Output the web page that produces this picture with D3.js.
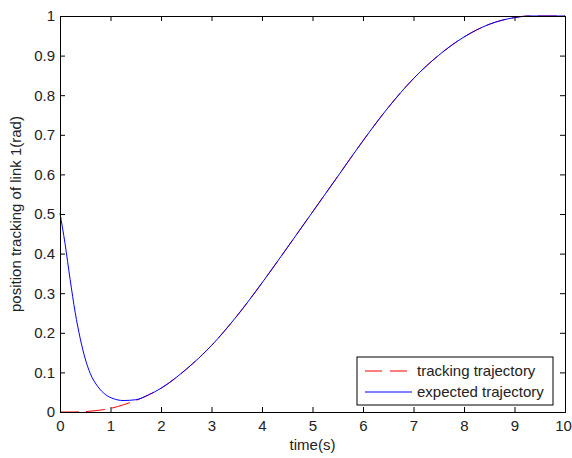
<!DOCTYPE html>
<html>
<head>
<meta charset="utf-8">
<script src="https://cdn.jsdelivr.net/npm/d3@7.9.0/dist/d3.min.js"></script>
<style>
  body { margin: 0; background: #fff; }
  svg { font-family: Arial, "Liberation Sans", sans-serif; }
</style>
</head>
<body>
<div id="chart"></div>
<script>
// tracking trajectory (red dashed)
const trackTime = [0, 0.25, 0.5, 0.75, 1, 1.25, 1.5, 1.75, 2, 2.5, 3, 3.5, 4, 4.5, 5, 5.5, 6, 6.5, 7, 7.5, 8, 8.5, 9, 9.3, 10];
const trackValues = [0, 0, 0.001, 0.004, 0.009, 0.018, 0.029, 0.043, 0.06, 0.108, 0.168, 0.242, 0.326, 0.415, 0.505, 0.595, 0.685, 0.769, 0.842, 0.901, 0.947, 0.979, 0.996, 1.0, 1.0];

// expected trajectory (blue solid)
const expTime = [0, 0.1, 0.2, 0.3, 0.4, 0.5, 0.6, 0.75, 0.9, 1.05, 1.25, 1.5, 1.75, 2, 2.5, 3, 3.5, 4, 4.5, 5, 5.5, 6, 6.5, 7, 7.5, 8, 8.5, 9, 9.3, 10];
const expValues = [0.502, 0.425, 0.335, 0.252, 0.186, 0.134, 0.097, 0.064, 0.044, 0.034, 0.029, 0.031, 0.043, 0.06, 0.108, 0.168, 0.242, 0.326, 0.415, 0.505, 0.595, 0.685, 0.769, 0.842, 0.901, 0.947, 0.979, 0.996, 1.0, 1.0];

const xTicks = [0, 1, 2, 3, 4, 5, 6, 7, 8, 9, 10];
const yTicks = [0, 0.1, 0.2, 0.3, 0.4, 0.5, 0.6, 0.7, 0.8, 0.9, 1];
const legendLabels = ['tracking trajectory', 'expected trajectory'];

const width = 572;
const height = 458;
const margin = { top: 16, right: 7, bottom: 46, left: 60 };

const svg = d3.select('#chart')
  .append('svg')
  .attr('width', width)
  .attr('height', height);

const x = d3.scaleLinear().domain([0, 10]).range([margin.left, width - margin.right]);
const y = d3.scaleLinear().domain([0, 1]).range([height - margin.bottom, margin.top]);

const line = d3.line()
  .x(d => x(d[0]))
  .y(d => y(d[1]))
  .curve(d3.curveMonotoneX);

const trackData = trackTime.map((t, i) => [t, trackValues[i]]);
const expData = expTime.map((t, i) => [t, expValues[i]]);

svg.append('path')
  .datum(trackData)
  .attr('d', line)
  .attr('fill', 'none')
  .attr('stroke', '#ff0000')
  .attr('stroke-width', 1)
  .attr('stroke-dasharray', '19,7');

svg.append('path')
  .datum(expData)
  .attr('d', line)
  .attr('fill', 'none')
  .attr('stroke', '#0000ff')
  .attr('stroke-width', 1);

// axes, MATLAB box style with inward ticks
const fmtY = d => d === 0 || d === 1 ? String(d) : d.toFixed(1);

svg.append('g')
  .attr('transform', `translate(0,${y(0)})`)
  .call(d3.axisBottom(x).tickValues(xTicks).tickSize(-5).tickPadding(8))
  .call(g => g.selectAll('text').attr('font-size', 15).attr('fill', '#222'))
  .call(g => g.selectAll('text').filter(d => d === 10).attr('dx', -2));

svg.append('g')
  .attr('transform', `translate(0,${y(1)})`)
  .call(d3.axisTop(x).tickValues(xTicks).tickSize(-5).tickFormat(''));

svg.append('g')
  .attr('transform', `translate(${x(0)},0)`)
  .call(d3.axisLeft(y).tickValues(yTicks).tickSize(-5).tickPadding(5).tickFormat(fmtY))
  .call(g => g.selectAll('text').attr('font-size', 15).attr('fill', '#222'));

svg.append('g')
  .attr('transform', `translate(${x(10)},0)`)
  .call(d3.axisRight(y).tickValues(yTicks).tickSize(-5).tickFormat(''));

svg.selectAll('.domain').attr('stroke', '#000');
svg.selectAll('.tick line').attr('stroke', '#000');

// axis labels
svg.append('text')
  .attr('x', (x(0) + x(10)) / 2)
  .attr('y', 450)
  .attr('text-anchor', 'middle')
  .attr('font-size', 15)
  .attr('fill', '#222')
  .text('time(s)');

svg.append('text')
  .attr('transform', `translate(21,${(y(0) + y(1)) / 2}) rotate(-90)`)
  .attr('text-anchor', 'middle')
  .attr('font-size', 15)
  .attr('fill', '#222')
  .text('position tracking of link 1(rad)');

// legend
const legend = svg.append('g').attr('transform', 'translate(357,357)');
legend.append('rect')
  .attr('width', 196)
  .attr('height', 48)
  .attr('fill', '#fff')
  .attr('stroke', '#000');

const legendStyles = [
  { color: '#ff0000', dash: '17,8' },
  { color: '#0000ff', dash: null }
];

legendLabels.forEach((label, i) => {
  const row = legend.append('g').attr('transform', `translate(0,${14 + i * 21})`);
  row.append('line')
    .attr('x1', 8).attr('x2', 55)
    .attr('y1', 0).attr('y2', 0)
    .attr('stroke', legendStyles[i].color)
    .attr('stroke-dasharray', legendStyles[i].dash);
  row.append('text')
    .attr('x', 60)
    .attr('y', 5)
    .attr('font-size', 15)
    .attr('fill', '#222')
    .text(label);
});
</script>
</body>
</html>
